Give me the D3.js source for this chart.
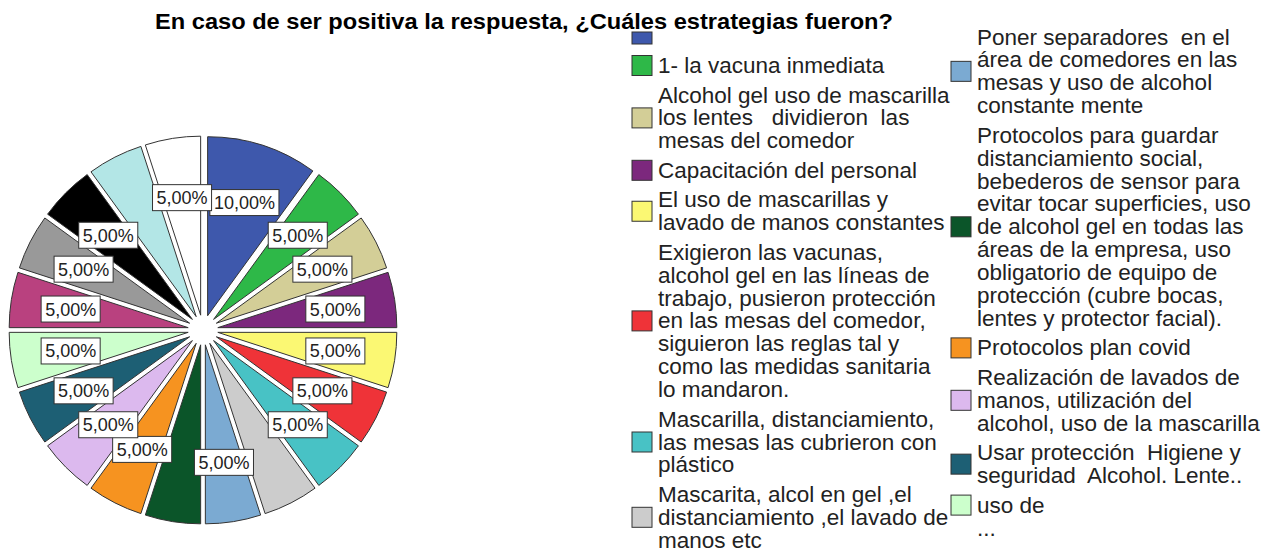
<!DOCTYPE html>
<html>
<head>
<meta charset="utf-8">
<script src="https://cdn.jsdelivr.net/npm/d3@7"></script>
<style>
body { margin: 0; background: #fff; }
svg { display: block; font-family: "Liberation Sans", Arial, sans-serif; }
</style>
</head>
<body>
<div id="chart"></div>
<script>
var title = "En caso de ser positiva la respuesta, ¿Cuáles estrategias fueron?";

// legend texts, "\n" = line break as in the original legend
// (the last five categories are cut off in the picture, so their names are unknown)
var categories = [
    "",
    "1- la vacuna inmediata",
    "Alcohol gel uso de mascarilla\nlos lentes   dividieron  las\nmesas del comedor",
    "Capacitación del personal",
    "El uso de mascarillas y\nlavado de manos constantes",
    "Exigieron las vacunas,\nalcohol gel en las líneas de\ntrabajo, pusieron protección\nen las mesas del comedor,\nsiguieron las reglas tal y\ncomo las medidas sanitaria\nlo mandaron.",
    "Mascarilla, distanciamiento,\nlas mesas las cubrieron con\nplástico",
    "Mascarita, alcol en gel ,el\ndistanciamiento ,el lavado de\nmanos etc",
    "Poner separadores  en el\nárea de comedores en las\nmesas y uso de alcohol\nconstante mente",
    "Protocolos para guardar\ndistanciamiento social,\nbebederos de sensor para\nevitar tocar superficies, uso\nde alcohol gel en todas las\náreas de la empresa, uso\nobligatorio de equipo de\nprotección (cubre bocas,\nlentes y protector facial).",
    "Protocolos plan covid",
    "Realización de lavados de\nmanos, utilización del\nalcohol, uso de la mascarilla",
    "Usar protección  Higiene y\nseguridad  Alcohol. Lente..",
    "uso de",
    null, null, null, null, null
];

var percents = [10, 5, 5, 5, 5, 5, 5, 5, 5, 5, 5, 5, 5, 5, 5, 5, 5, 5, 5];

var colors = [
    "#3e58ac", "#2eb848", "#d3ce97", "#7c287d", "#fbf873",
    "#ef3338", "#48c2c5", "#cccccc", "#7baad2", "#0b5529",
    "#f69320", "#dcb9ee", "#1d5f74", "#ccffcc", "#b9417f",
    "#999999", "#000000", "#b3e6e6", "#ffffff"
];

var W = 1272, H = 550;
var cx = 203, cy = 330, R = 179, explode = 15, labelR = 134;

var svg = d3.select("#chart").append("svg")
    .attr("width", W)
    .attr("height", H);

// title (legend is drawn over it, like the original)
svg.append("text")
    .attr("x", 155)
    .attr("y", 29)
    .attr("font-weight", "bold")
    .attr("font-size", 22)
    .attr("textLength", 738)
    .attr("lengthAdjust", "spacingAndGlyphs")
    .attr("fill", "#000")
    .text(title);

// pie, every slice pulled out a bit
var pie = d3.pie().sort(null).value(function(d) { return d; });
var arcs = pie(percents);
var arc = d3.arc().innerRadius(0).outerRadius(R);

var g = svg.append("g")
    .attr("transform", "translate(" + cx + "," + cy + ")");

function mid(d) { return (d.startAngle + d.endAngle) / 2; }

g.selectAll("path.slice")
    .data(arcs)
    .enter()
    .append("path")
    .attr("class", "slice")
    .attr("d", arc)
    .attr("transform", function(d) {
        var a = mid(d);
        return "translate(" + (Math.sin(a) * explode) + "," + (-Math.cos(a) * explode) + ")";
    })
    .attr("fill", function(d, i) { return colors[i]; })
    .attr("stroke", "#333")
    .attr("stroke-width", 1);

// value labels in boxes
var fmt = function(v) { return d3.format(".2f")(v).replace(".", ",") + "%"; };
var total = d3.sum(percents);

var labels = g.selectAll("g.lab")
    .data(arcs)
    .enter()
    .append("g")
    .attr("class", "lab");

labels.append("rect");
labels.append("text")
    .attr("font-size", 18)
    .attr("fill", "#222")
    .attr("text-anchor", "middle")
    .text(function(d) { return fmt(d.value / total * 100); });

var boxes = [];
labels.each(function(d, i) {
    var a = mid(d);
    var x = Math.sin(a) * labelR, y = -Math.cos(a) * labelR;
    var tw = this.querySelector("text").getComputedTextLength();
    var w = tw + 8, h = 26;
    boxes.push({ i: i, x: x - w / 2, y: y - h / 2, w: w, h: h, cx: x, cy: y, on: false });
});

// place labels going backwards round the pie, skip one that hits a placed label
function hits(a, b) {
    var ox = Math.min(a.x + a.w, b.x + b.w) - Math.max(a.x, b.x);
    var oy = Math.min(a.y + a.h, b.y + b.h) - Math.max(a.y, b.y);
    return ox > 2 && oy > 2;
}
for (var n = boxes.length - 1; n >= 0; n--) {
    var free = boxes.every(function(b) { return !b.on || !hits(boxes[n], b); });
    boxes[n].on = free;
}

labels.each(function(d, i) {
    var b = boxes[i];
    var sel = d3.select(this);
    if (!b.on) { sel.remove(); return; }
    sel.select("rect")
        .attr("x", b.x).attr("y", b.y)
        .attr("width", b.w).attr("height", b.h)
        .attr("fill", "#fff")
        .attr("stroke", "#333")
        .attr("stroke-width", 1);
    sel.select("text")
        .attr("x", b.cx)
        .attr("y", b.cy + 6.5);
});

// legend, flows into a second column and stops with "..." when out of room
var legend = svg.append("g");
var colX = [632, 951], lineH = 22.9, gap = 29.5, fontSize = 22.5;
var col = 0, yLine = 36;
for (var k = 0; k < categories.length; k++) {
    var label = categories[k];
    if (label === null) {
        legend.append("text")
            .attr("x", colX[col] + 26)
            .attr("y", yLine - gap + lineH + 7.5)
            .attr("font-size", fontSize)
            .attr("fill", "#222")
            .text("...");
        break;
    }
    var lines = label.split("\n");
    var bottom = yLine + (lines.length - 1) * lineH + 11;
    if (bottom > H + 10 && col === 0) {
        col = 1;
        yLine = 37;
    }
    var blockMid = yLine + (lines.length - 1) * lineH / 2;
    var sh = label === "" ? 12 : 20;
    legend.append("rect")
        .attr("x", colX[col])
        .attr("y", blockMid - sh / 2 + (label === "" ? 2 : 0))
        .attr("width", 20)
        .attr("height", sh)
        .attr("fill", colors[k])
        .attr("stroke", "#333")
        .attr("stroke-width", 1);
    var t = legend.append("text")
        .attr("font-size", fontSize)
        .attr("fill", "#222");
    lines.forEach(function(s, j) {
        t.append("tspan")
            .attr("x", colX[col] + 26)
            .attr("y", yLine + j * lineH + 7.5)
            .attr("xml:space", "preserve")
            .text(s);
    });
    yLine = yLine + (lines.length - 1) * lineH + gap;
}
</script>
</body>
</html>
